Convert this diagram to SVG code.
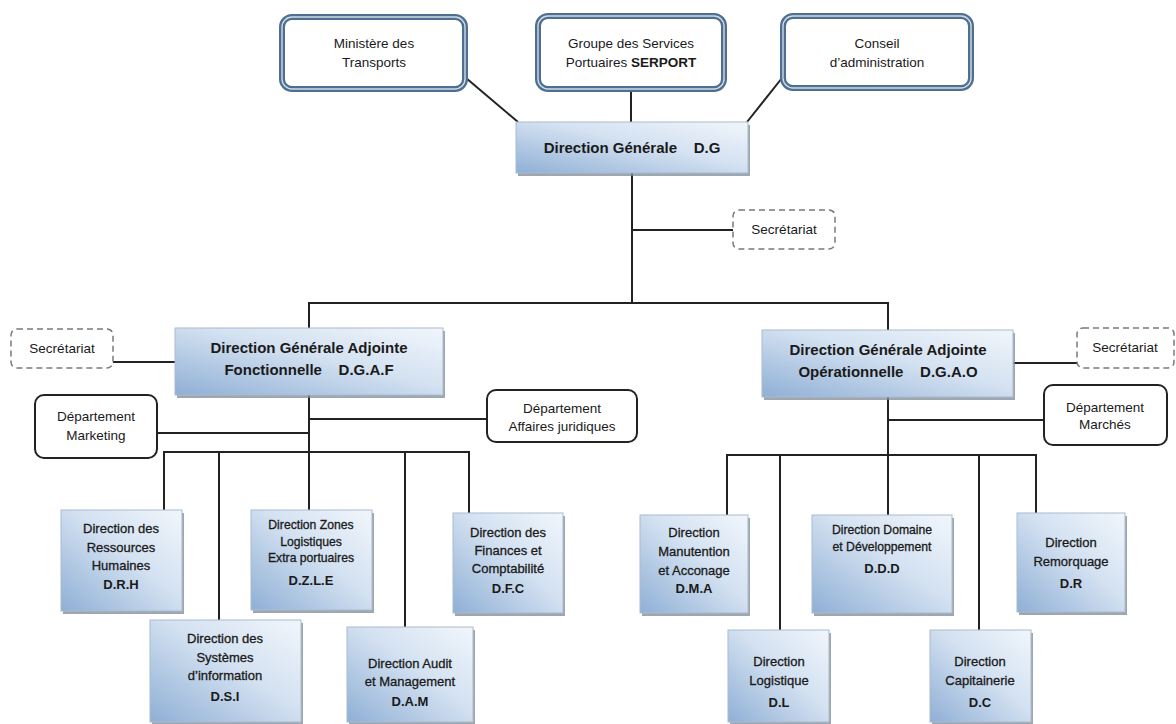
<svg xmlns="http://www.w3.org/2000/svg" width="1176" height="724" viewBox="0 0 1176 724">
<defs>
<linearGradient id="bg" x1="0" y1="1" x2="1" y2="0">
<stop offset="0" stop-color="#8fafd5"/>
<stop offset="0.55" stop-color="#d3e1f1"/>
<stop offset="1" stop-color="#f1f6fb"/>
</linearGradient>
<style>
.t{font-family:"Liberation Sans",Arial,sans-serif;fill:#1a1a1a;text-anchor:middle}
.h{font-size:13.5px}
.s{font-size:13px;stroke:#1a1a1a;stroke-width:0.3}
.xs{font-size:12.2px;stroke:#1a1a1a;stroke-width:0.3}
.b{font-weight:bold;font-size:13px;stroke:none}
.m{font-size:15px;font-weight:bold}
.top1{fill:#fff;stroke:#4f6f91;stroke-width:6}
.top2{fill:none;stroke:#cfdbe7;stroke-width:1.4}
.blue{fill:url(#bg);stroke:#a9bccf;stroke-width:1}
.sh{fill:#7d8894;opacity:0.75}
.dash{fill:#fff;stroke:#7a7a7a;stroke-width:1.5;stroke-dasharray:6 4}
.dep{fill:#fff;stroke:#222;stroke-width:2}
.c line{stroke:#222;stroke-width:2}
</style>
</defs>
<rect width="1176" height="724" fill="#fff"/>

<g class="c" id="connectors">
<line x1="466" y1="78" x2="518" y2="122"/>
<line x1="631" y1="90" x2="631" y2="122"/>
<line x1="782" y1="78" x2="747" y2="122"/>
<line x1="632" y1="173" x2="632" y2="304"/>
<line x1="632" y1="230" x2="733" y2="230"/>
<line x1="308" y1="303" x2="889" y2="303"/>
<line x1="309" y1="303" x2="309" y2="328"/>
<line x1="888" y1="303" x2="888" y2="330"/>
<line x1="113" y1="362" x2="175" y2="362"/>
<line x1="1013" y1="363" x2="1077" y2="363"/>
<line x1="309" y1="395" x2="309" y2="510"/>
<line x1="309" y1="419" x2="487" y2="419"/>
<line x1="157" y1="433" x2="309" y2="433"/>
<line x1="163" y1="452" x2="470" y2="452"/>
<line x1="164" y1="451" x2="164" y2="510"/>
<line x1="219" y1="452" x2="219" y2="620"/>
<line x1="405" y1="452" x2="405" y2="627"/>
<line x1="469" y1="451" x2="469" y2="513"/>
<line x1="888" y1="397" x2="888" y2="515"/>
<line x1="888" y1="420" x2="1044" y2="420"/>
<line x1="726" y1="455" x2="1037" y2="455"/>
<line x1="727" y1="454" x2="727" y2="515"/>
<line x1="780" y1="455" x2="780" y2="630"/>
<line x1="979" y1="455" x2="979" y2="630"/>
<line x1="1036" y1="454" x2="1036" y2="513"/>
</g>

<g id="ministere">
<rect class="top1" x="282" y="17" width="183" height="72" rx="10"/>
<rect class="top2" x="282" y="17" width="183" height="72" rx="10"/>
<text class="t h" x="374" y="48">Ministère des</text>
<text class="t h" x="374" y="67">Transports</text>
</g>
<g id="serport">
<rect class="top1" x="538" y="16" width="186" height="73" rx="10"/>
<rect class="top2" x="538" y="16" width="186" height="73" rx="10"/>
<text class="t h" x="631" y="48">Groupe des Services</text>
<text class="t h" x="631" y="67">Portuaires <tspan font-weight="bold">SERPORT</tspan></text>
</g>
<g id="conseil">
<rect class="top1" x="783" y="16" width="188" height="72" rx="10"/>
<rect class="top2" x="783" y="16" width="188" height="72" rx="10"/>
<text class="t h" x="877" y="48">Conseil</text>
<text class="t h" x="877" y="67">d’administration</text>
</g>

<g id="dg">
<rect class="sh" x="518" y="125" width="232" height="51"/>
<rect class="blue" x="516" y="122" width="232" height="51"/>
<text class="t m" x="632" y="153" xml:space="preserve">Direction Générale    D.G</text>
</g>
<g id="secretariat-dg">
<rect class="dash" x="733" y="210" width="102" height="39" rx="6"/>
<text class="t h" x="784" y="234">Secrétariat</text>
</g>

<g id="dgaf">
<rect class="sh" x="177" y="331" width="268" height="67"/>
<rect class="blue" x="175" y="328" width="268" height="67"/>
<text class="t m" x="309" y="353">Direction Générale Adjointe</text>
<text class="t m" x="309" y="375" xml:space="preserve">Fonctionnelle    D.G.A.F</text>
</g>
<g id="secretariat-dgaf">
<rect class="dash" x="11" y="329" width="102" height="39" rx="6"/>
<text class="t h" x="62" y="353">Secrétariat</text>
</g>
<g id="dgao">
<rect class="sh" x="764" y="333" width="251" height="67"/>
<rect class="blue" x="762" y="330" width="251" height="67"/>
<text class="t m" x="888" y="355">Direction Générale Adjointe</text>
<text class="t m" x="888" y="377" xml:space="preserve">Opérationnelle    D.G.A.O</text>
</g>
<g id="secretariat-dgao">
<rect class="dash" x="1077" y="328" width="97" height="40" rx="6"/>
<text class="t h" x="1125" y="352">Secrétariat</text>
</g>

<g id="marketing">
<rect class="dep" x="35" y="395" width="122" height="63" rx="9"/>
<text class="t h" x="96" y="421">Département</text>
<text class="t h" x="96" y="440">Marketing</text>
</g>
<g id="juridiques">
<rect class="dep" x="487" y="390" width="150" height="52" rx="9"/>
<text class="t h" x="562" y="413">Département</text>
<text class="t h" x="562" y="431">Affaires juridiques</text>
</g>
<g id="marches">
<rect class="dep" x="1044" y="385" width="123" height="60" rx="9"/>
<text class="t h" x="1105" y="412">Département</text>
<text class="t h" x="1105" y="429">Marchés</text>
</g>

<g id="drh">
<rect class="sh" x="63" y="513" width="121" height="101"/>
<rect class="blue" x="61" y="510" width="121" height="101"/>
<text class="t s" x="121" y="533">Direction des</text>
<text class="t s" x="121" y="552">Ressources</text>
<text class="t s" x="121" y="570">Humaines</text>
<text class="t b" x="121" y="589">D.R.H</text>
</g>
<g id="dsi">
<rect class="sh" x="152" y="623" width="151" height="101"/>
<rect class="blue" x="150" y="620" width="151" height="102"/>
<text class="t s" x="225" y="643">Direction des</text>
<text class="t s" x="225" y="662">Systèmes</text>
<text class="t s" x="225" y="680">d’information</text>
<text class="t b" x="225" y="701">D.S.I</text>
</g>
<g id="dzle">
<rect class="sh" x="253" y="513" width="121" height="100"/>
<rect class="blue" x="251" y="510" width="121" height="100"/>
<text class="t xs" x="311" y="529">Direction Zones</text>
<text class="t xs" x="311" y="546">Logistiques</text>
<text class="t xs" x="311" y="562">Extra portuaires</text>
<text class="t b" x="311" y="585">D.Z.L.E</text>
</g>
<g id="dam">
<rect class="sh" x="349" y="630" width="126" height="94"/>
<rect class="blue" x="347" y="627" width="126" height="95"/>
<text class="t s" x="410" y="668">Direction Audit</text>
<text class="t s" x="410" y="686">et Management</text>
<text class="t b" x="410" y="706">D.A.M</text>
</g>
<g id="dfc">
<rect class="sh" x="455" y="516" width="110" height="100"/>
<rect class="blue" x="453" y="513" width="110" height="100"/>
<text class="t s" x="508" y="537">Direction des</text>
<text class="t s" x="508" y="555">Finances et</text>
<text class="t s" x="508" y="573">Comptabilité</text>
<text class="t b" x="508" y="593">D.F.C</text>
</g>

<g id="dma">
<rect class="sh" x="642" y="518" width="108" height="98"/>
<rect class="blue" x="640" y="515" width="108" height="98"/>
<text class="t s" x="694" y="537">Direction</text>
<text class="t s" x="694" y="556">Manutention</text>
<text class="t s" x="694" y="575">et Acconage</text>
<text class="t b" x="694" y="593">D.M.A</text>
</g>
<g id="dl">
<rect class="sh" x="730" y="633" width="101" height="91"/>
<rect class="blue" x="728" y="630" width="101" height="92"/>
<text class="t s" x="779" y="666">Direction</text>
<text class="t s" x="779" y="685">Logistique</text>
<text class="t b" x="779" y="707">D.L</text>
</g>
<g id="ddd">
<rect class="sh" x="814" y="518" width="140" height="98"/>
<rect class="blue" x="812" y="515" width="140" height="98"/>
<text class="t xs" x="882" y="534">Direction Domaine</text>
<text class="t xs" x="882" y="551">et Développement</text>
<text class="t b" x="882" y="573">D.D.D</text>
</g>
<g id="dc">
<rect class="sh" x="932" y="633" width="101" height="91"/>
<rect class="blue" x="930" y="630" width="101" height="92"/>
<text class="t s" x="980" y="666">Direction</text>
<text class="t s" x="980" y="685">Capitainerie</text>
<text class="t b" x="980" y="707">D.C</text>
</g>
<g id="dr">
<rect class="sh" x="1019" y="516" width="108" height="99"/>
<rect class="blue" x="1017" y="513" width="108" height="99"/>
<text class="t s" x="1071" y="547">Direction</text>
<text class="t s" x="1071" y="566">Remorquage</text>
<text class="t b" x="1071" y="588">D.R</text>
</g>
</svg>
